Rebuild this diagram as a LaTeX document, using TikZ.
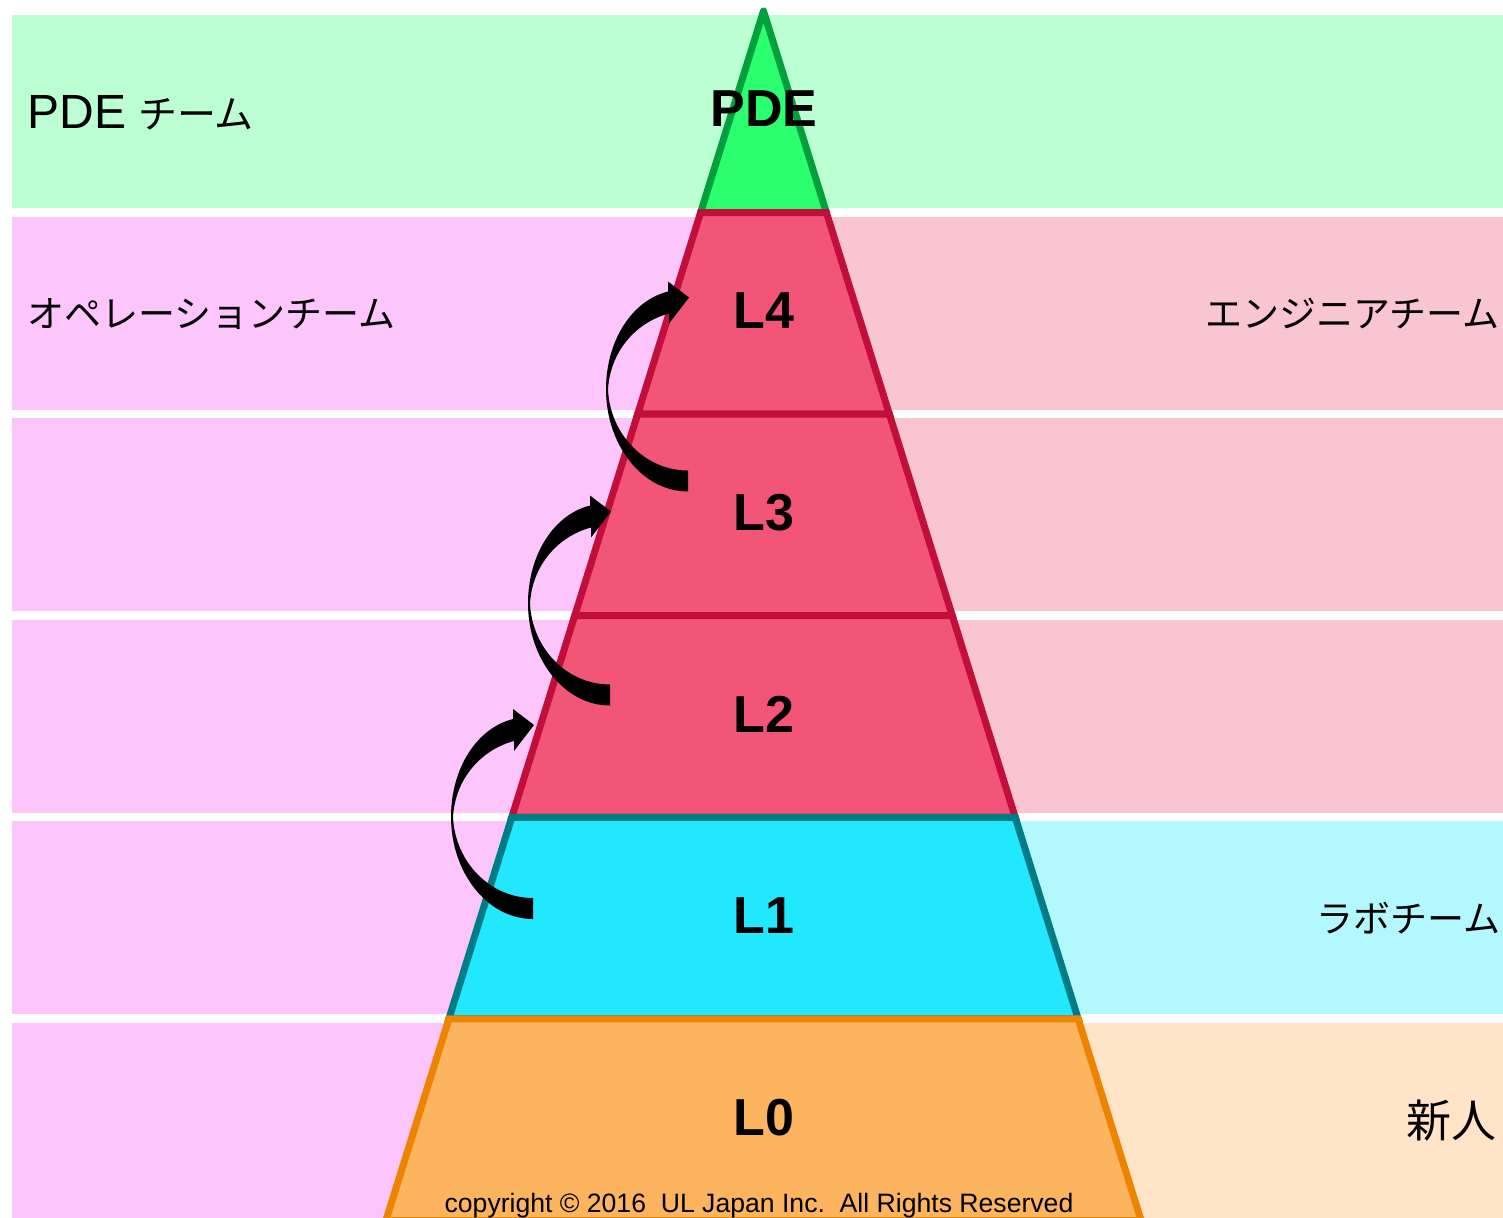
\documentclass[tikz,border=0pt]{standalone}
\usepackage{fontspec}
\setmainfont{Liberation Sans}
\newfontfamily\cjk{Noto Sans CJK JP}
\definecolor{bandgreen}{HTML}{BBFFD3}
\definecolor{bandpink}{HTML}{FCC5FC}
\definecolor{bandrose}{HTML}{F9C5D0}
\definecolor{bandcyan}{HTML}{B3F7FF}
\definecolor{bandpeach}{HTML}{FFE4C8}
\definecolor{pdefill}{HTML}{2BFF70}
\definecolor{pdeline}{HTML}{00A03C}
\definecolor{redfill}{HTML}{F25577}
\definecolor{redline}{HTML}{C20E3A}
\definecolor{cyanfill}{HTML}{21E8FF}
\definecolor{cyanline}{HTML}{007C86}
\definecolor{orfill}{HTML}{FDB45E}
\definecolor{orline}{HTML}{EE8300}
\tikzset{
  layer/.style={line width=3.5pt},
  lvl/.style={font=\fontsize{26}{30}\selectfont\bfseries, inner sep=0pt},
  jpkana/.style={font=\cjk\fontsize{18.5}{22}\selectfont, inner sep=0pt},
  jpkanji/.style={font=\cjk\fontsize{22.5}{26}\selectfont, inner sep=0pt},
  latin/.style={font=\fontsize{24}{28}\selectfont, inner sep=0pt},
  copy/.style={font=\fontsize{13.3}{16}\selectfont, inner sep=0pt},
  bluearrow/.style={fill=black}
}
\begin{document}
\begin{tikzpicture}[x=0.5pt,y=-0.5pt]
\useasboundingbox (0,0) rectangle (1503,1217);
\clip (0,0) rectangle (1503,1217);
\fill[white] (0,0) rectangle (1503,1217);
% background bands
\fill[bandgreen] (12,15) rectangle (1503,208);
\fill[bandpink] (12,216.6) rectangle (763,409.6);
\fill[bandrose] (763,216.6) rectangle (1503,409.6);
\fill[bandpink] (12,418.2) rectangle (763,611.2);
\fill[bandrose] (763,418.2) rectangle (1503,611.2);
\fill[bandpink] (12,619.8) rectangle (763,812.8);
\fill[bandrose] (763,619.8) rectangle (1503,812.8);
\fill[bandpink] (12,821.4) rectangle (763,1014.4);
\fill[bandcyan] (763,821.4) rectangle (1503,1014.4);
\fill[bandpink] (12,1023) rectangle (763,1222);
\fill[bandpeach] (763,1023) rectangle (1503,1222);
% pyramid layers
\filldraw[layer, fill=pdefill, draw=pdeline, line join=round]
  (763.5,11) -- (826.4,212.5) -- (700.6,212.5) -- cycle;
\filldraw[layer, fill=redfill, draw=redline]
  (700.6,212.5) -- (826.4,212.5) -- (889.35,414.1) -- (637.65,414.1) -- cycle;
\filldraw[layer, fill=redfill, draw=redline]
  (637.65,414.1) -- (889.35,414.1) -- (952.28,615.7) -- (574.72,615.7) -- cycle;
\filldraw[layer, fill=redfill, draw=redline]
  (574.72,615.7) -- (952.28,615.7) -- (1015.23,817.3) -- (511.77,817.3) -- cycle;
\filldraw[layer, fill=cyanfill, draw=cyanline]
  (511.77,817.3) -- (1015.23,817.3) -- (1078.16,1018.9) -- (448.84,1018.9) -- cycle;
\filldraw[layer, fill=orfill, draw=orline]
  (448.84,1018.9) -- (1078.16,1018.9) -- (1141.11,1220.5) -- (385.89,1220.5) -- cycle;
% curved arrows
\coordinate (a1) at (533,908.5);
\coordinate (a2) at (610,695);
\coordinate (a3) at (688,481);
\foreach \c in {a1,a2,a3}{
  \fill[bluearrow, shift={(\c)}]
    (0,10.5) .. controls (-46,10.5) and (-82,-36.5) .. (-82,-91.5)
    .. controls (-82,-140.5) and (-56,-180.5) .. (-20,-189.5)
    -- (-20,-199.5) -- (1,-183.5) -- (-19,-157.5) -- (-19,-167.5)
    .. controls (-53,-158.5) and (-78,-128.5) .. (-80,-91.5)
    .. controls (-78,-46.5) and (-43,-10.5) .. (0,-10.5) -- cycle;
}
% level labels
\node[lvl] (pde) at (764,109) {PDE};
\node[lvl] (l4) at (764,310.5) {L4};
\node[lvl] (l3) at (764,512.5) {L3};
\node[lvl] (l2) at (764,714.5) {L2};
\node[lvl] (l1) at (764,916) {L1};
\node[lvl] (l0) at (764,1118) {L0};
% team labels
\node[latin, anchor=west] (pdeteam) at (27,112.5) {PDE\hspace{6pt}{\cjk\fontsize{19.5}{23}\selectfont チーム}};
\node[jpkana, anchor=west] (opteam) at (27,314) {オペレーションチーム};
\node[jpkana, anchor=east] (engteam) at (1500,314) {エンジニアチーム};
\node[jpkana, anchor=east] (labteam) at (1501,918) {ラボチーム};
\node[jpkanji, anchor=east] (newbie) at (1497,1121) {新人};
\node[copy, anchor=base] (copyright) at (759,1212) {copyright © 2016\ \ UL Japan Inc.\ \ All Rights Reserved};
\end{tikzpicture}
\end{document}
